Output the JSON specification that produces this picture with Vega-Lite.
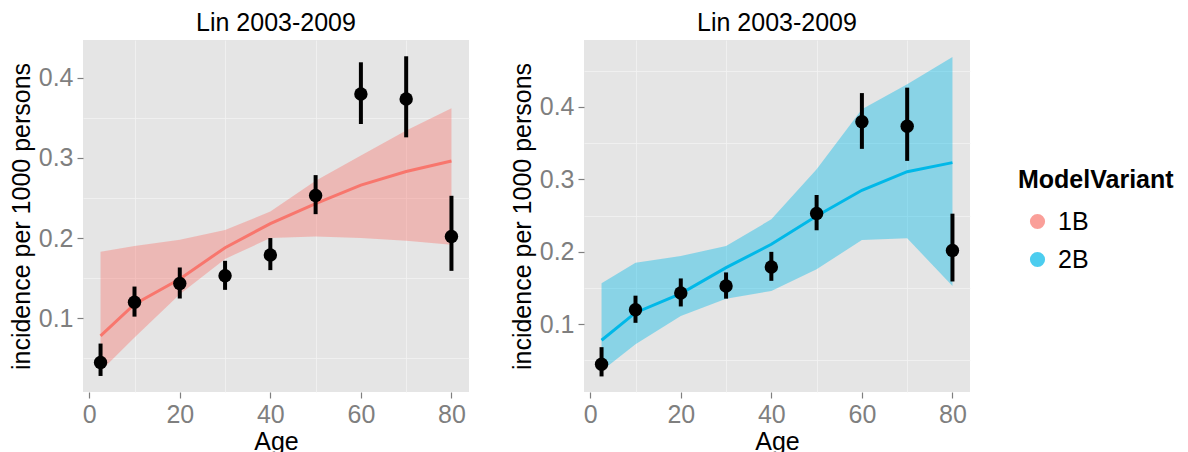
{
  "$schema": "https://vega.github.io/schema/vega-lite/v6.json",
  "padding": {"left": 9, "top": 11, "right": 5, "bottom": 0},
  "background": "white",
  "datasets": {
    "model": [
      {"variant": "1B", "Age": 2.5, "est": 0.078, "lo": 0.034, "hi": 0.183},
      {"variant": "1B", "Age": 10, "est": 0.1175, "lo": 0.076, "hi": 0.190},
      {"variant": "1B", "Age": 20, "est": 0.149, "lo": 0.130, "hi": 0.198},
      {"variant": "1B", "Age": 30, "est": 0.188, "lo": 0.174, "hi": 0.210},
      {"variant": "1B", "Age": 40, "est": 0.218, "lo": 0.200, "hi": 0.233},
      {"variant": "1B", "Age": 50, "est": 0.243, "lo": 0.202, "hi": 0.2715},
      {"variant": "1B", "Age": 60, "est": 0.266, "lo": 0.200, "hi": 0.303},
      {"variant": "1B", "Age": 70, "est": 0.283, "lo": 0.1965, "hi": 0.334},
      {"variant": "1B", "Age": 80, "est": 0.296, "lo": 0.1916, "hi": 0.362},
      {"variant": "2B", "Age": 2.5, "est": 0.0779, "lo": 0.0356, "hi": 0.1566},
      {"variant": "2B", "Age": 10, "est": 0.116, "lo": 0.0724, "hi": 0.1851},
      {"variant": "2B", "Age": 20, "est": 0.1423, "lo": 0.1115, "hi": 0.1943},
      {"variant": "2B", "Age": 30, "est": 0.1782, "lo": 0.1354, "hi": 0.2081},
      {"variant": "2B", "Age": 40, "est": 0.2104, "lo": 0.146, "hi": 0.2449},
      {"variant": "2B", "Age": 50, "est": 0.2495, "lo": 0.1759, "hi": 0.314},
      {"variant": "2B", "Age": 60, "est": 0.285, "lo": 0.2164, "hi": 0.3968},
      {"variant": "2B", "Age": 70, "est": 0.3107, "lo": 0.2187, "hi": 0.4313},
      {"variant": "2B", "Age": 80, "est": 0.3232, "lo": 0.1529, "hi": 0.469}
    ],
    "obs": [
      {"Age": 2.5, "inc": 0.0447, "lo": 0.028, "hi": 0.0684},
      {"Age": 10, "inc": 0.120, "lo": 0.102, "hi": 0.1395},
      {"Age": 20, "inc": 0.1433, "lo": 0.1246, "hi": 0.1633},
      {"Age": 30, "inc": 0.1529, "lo": 0.1354, "hi": 0.1716},
      {"Age": 40, "inc": 0.179, "lo": 0.160, "hi": 0.200},
      {"Age": 50, "inc": 0.2531, "lo": 0.2298, "hi": 0.2785},
      {"Age": 60, "inc": 0.3797, "lo": 0.3422, "hi": 0.4192},
      {"Age": 70, "inc": 0.3734, "lo": 0.3256, "hi": 0.4267},
      {"Age": 80, "inc": 0.202, "lo": 0.1591, "hi": 0.2527}
    ]
  },
  "config": {
    "font": "Liberation Sans",
    "view": {"fill": "#E5E5E5", "stroke": null},
    "title": {"fontSize": 25, "fontWeight": "normal", "color": "black", "offset": 4},
    "axis": {
      "labelFont": "Liberation Sans",
      "titleFont": "Liberation Sans",
      "labelFontSize": 25,
      "titleFontSize": 25,
      "titleFontWeight": "normal",
      "labelColor": "#7F7F7F",
      "titleColor": "black",
      "tickColor": "#7F7F7F",
      "tickSize": 6,
      "tickWidth": 1.2,
      "domain": false,
      "gridColor": "white",
      "gridWidth": 1.5,
      "labelPadding": 4
    },
    "legend": {
      "titleFontSize": 25,
      "titleFontWeight": "bold",
      "titleColor": "black",
      "titlePadding": 16,
      "labelFontSize": 25,
      "labelColor": "black",
      "labelOffset": 8,
      "rowPadding": 12,
      "symbolOffset": 7
    }
  },
  "hconcat": [
    {
      "width": 386,
      "height": 352,
      "title": "Lin 2003-2009",
      "resolve": {"axis": {"x": "independent", "y": "independent"}},
      "layer": [
        {
          "data": {"name": "model"},
          "transform": [{"filter": "datum.variant == '1B'"}],
          "mark": {"type": "area", "opacity": 0.4},
          "encoding": {
            "x": {"field": "Age", "type": "quantitative", "scale": {"domain": [-1.375, 83.875], "nice": false, "zero": false},
                  "axis": {"orient": "bottom", "values": [10, 30, 50, 70], "labels": false, "ticks": false, "title": null, "gridColor": "#F2F2F2", "gridWidth": 0.8}},
            "y": {"field": "lo", "type": "quantitative", "scale": {"domain": [0.008, 0.447], "nice": false, "zero": false},
                  "axis": {"orient": "left", "values": [0.05, 0.15, 0.25, 0.35], "labels": false, "ticks": false, "title": null, "gridColor": "#F2F2F2", "gridWidth": 0.8}},
            "y2": {"field": "hi"},
            "color": {"field": "variant", "type": "nominal", "scale": {"domain": ["1B", "2B"], "range": ["#F8766D", "#00B8E8"]},
                      "legend": {"title": "ModelVariant", "symbolType": "circle", "symbolSize": 230, "symbolOpacity": 0.7, "symbolStrokeWidth": 0, "orient": "none", "legendX": 935, "legendY": 128}}
          }
        },
        {
          "data": {"name": "model"},
          "transform": [{"filter": "datum.variant == '1B'"}],
          "mark": {"type": "line", "strokeWidth": 3},
          "encoding": {
            "x": {"field": "Age", "type": "quantitative", "axis": {"orient": "bottom", "values": [0, 20, 40, 60, 80], "title": "Age", "titlePadding": 2}},
            "y": {"field": "est", "type": "quantitative", "axis": {"orient": "left", "values": [0.1, 0.2, 0.3, 0.4], "format": ".1f", "title": "incidence per 1000 persons", "titlePadding": 4}},
            "stroke": {"field": "variant", "type": "nominal", "scale": {"domain": ["1B", "2B"], "range": ["#F8766D", "#00B8E8"]}, "legend": null}
          }
        },
        {
          "data": {"name": "obs"},
          "mark": {"type": "rule", "strokeWidth": 4, "color": "black"},
          "encoding": {
            "x": {"field": "Age", "type": "quantitative", "axis": null},
            "y": {"field": "lo", "type": "quantitative", "axis": null},
            "y2": {"field": "hi"}
          }
        },
        {
          "data": {"name": "obs"},
          "mark": {"type": "point", "filled": true, "opacity": 1, "size": 180, "color": "black"},
          "encoding": {
            "x": {"field": "Age", "type": "quantitative", "axis": null},
            "y": {"field": "inc", "type": "quantitative", "axis": null}
          }
        }
      ]
    },
    {
      "width": 386,
      "height": 352,
      "title": "Lin 2003-2009",
      "resolve": {"axis": {"x": "independent", "y": "independent"}},
      "layer": [
        {
          "data": {"name": "model"},
          "transform": [{"filter": "datum.variant == '2B'"}],
          "mark": {"type": "area", "opacity": 0.4},
          "encoding": {
            "x": {"field": "Age", "type": "quantitative", "scale": {"domain": [-1.375, 83.875], "nice": false, "zero": false},
                  "axis": {"orient": "bottom", "values": [10, 30, 50, 70], "labels": false, "ticks": false, "title": null, "gridColor": "#F2F2F2", "gridWidth": 0.8}},
            "y": {"field": "lo", "type": "quantitative", "scale": {"domain": [0.0065, 0.4925], "nice": false, "zero": false},
                  "axis": {"orient": "left", "values": [0.05, 0.15, 0.25, 0.35, 0.45], "labels": false, "ticks": false, "title": null, "gridColor": "#F2F2F2", "gridWidth": 0.8}},
            "y2": {"field": "hi"},
            "color": {"field": "variant", "type": "nominal", "scale": {"domain": ["1B", "2B"], "range": ["#F8766D", "#00B8E8"]},
                      "legend": {"title": "ModelVariant", "symbolType": "circle", "symbolSize": 230, "symbolOpacity": 0.7, "symbolStrokeWidth": 0, "orient": "none", "legendX": 935, "legendY": 128}}
          }
        },
        {
          "data": {"name": "model"},
          "transform": [{"filter": "datum.variant == '2B'"}],
          "mark": {"type": "line", "strokeWidth": 3},
          "encoding": {
            "x": {"field": "Age", "type": "quantitative", "axis": {"orient": "bottom", "values": [0, 20, 40, 60, 80], "title": "Age", "titlePadding": 2}},
            "y": {"field": "est", "type": "quantitative", "axis": {"orient": "left", "values": [0.1, 0.2, 0.3, 0.4], "format": ".1f", "title": "incidence per 1000 persons", "titlePadding": 4}},
            "stroke": {"field": "variant", "type": "nominal", "scale": {"domain": ["1B", "2B"], "range": ["#F8766D", "#00B8E8"]}, "legend": null}
          }
        },
        {
          "data": {"name": "obs"},
          "mark": {"type": "rule", "strokeWidth": 4, "color": "black"},
          "encoding": {
            "x": {"field": "Age", "type": "quantitative", "axis": null},
            "y": {"field": "lo", "type": "quantitative", "axis": null},
            "y2": {"field": "hi"}
          }
        },
        {
          "data": {"name": "obs"},
          "mark": {"type": "point", "filled": true, "opacity": 1, "size": 180, "color": "black"},
          "encoding": {
            "x": {"field": "Age", "type": "quantitative", "axis": null},
            "y": {"field": "inc", "type": "quantitative", "axis": null}
          }
        }
      ]
    }
  ],
  "spacing": 41
}
